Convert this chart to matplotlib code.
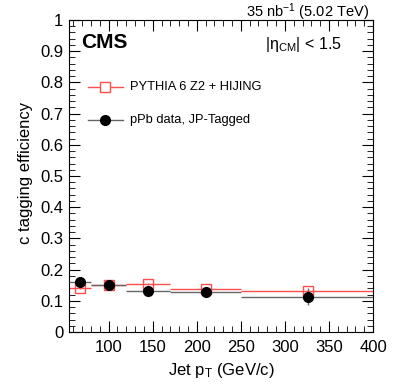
import matplotlib
matplotlib.use("Agg")
import matplotlib.pyplot as plt
from matplotlib.ticker import MultipleLocator
import numpy as np

plt.rcParams['font.family'] = ['Liberation Sans', 'DejaVu Sans']
plt.rcParams['mathtext.fontset'] = 'custom'
plt.rcParams['mathtext.rm'] = 'Liberation Sans'
plt.rcParams['mathtext.it'] = 'Liberation Sans'

# Data
bin_lo = [55, 80, 120, 170, 250]
bin_hi = [80, 120, 170, 250, 400]
mc_x = [67.5, 100.5, 145, 210.5, 326]
mc_eff = [0.140, 0.150, 0.154, 0.137, 0.132]
mc_err = [0.003, 0.003, 0.003, 0.003, 0.004]
data_x = [67.5, 100.5, 145, 210.5, 326]
data_eff = [0.159, 0.151, 0.131, 0.129, 0.113]
data_err = [0.006, 0.005, 0.005, 0.006, 0.027]

fig = plt.figure(figsize=(4.07, 3.91), dpi=100)
ax = fig.add_axes([69 / 407, 59 / 391, 304 / 407, 312 / 391])

lo = np.array(bin_lo); hi = np.array(bin_hi)
mx = np.array(mc_x); dx = np.array(data_x)

red = '#ff4d4d'
grey = '#666666'
ax.errorbar(mx, mc_eff, yerr=mc_err, xerr=[mx - lo, hi - mx], fmt='s',
            mfc='none', mec=red, ms=7, mew=1.0, color=red,
            elinewidth=1.0, capsize=0, zorder=2)
ax.errorbar(dx, data_eff, yerr=data_err, xerr=[dx - lo, hi - dx], fmt='o',
            color='black', ecolor=grey, ms=7, elinewidth=1.0, capsize=0,
            zorder=3)

ax.set_xlim(55, 400)
ax.set_ylim(0, 1)
ax.xaxis.set_minor_locator(MultipleLocator(10))
ax.yaxis.set_minor_locator(MultipleLocator(0.02))
ax.tick_params(which='both', direction='in', top=True, right=True, labelsize=12)
ax.tick_params(which='major', length=8)
ax.tick_params(which='minor', length=4)
ax.set_yticks(np.arange(0, 1.01, 0.1))
ax.set_yticklabels(['0', '0.1', '0.2', '0.3', '0.4', '0.5', '0.6', '0.7', '0.8', '0.9', '1'])
ax.set_xticks([100, 150, 200, 250, 300, 350, 400])
ax.tick_params(axis='x', pad=6)
ax.tick_params(axis='y', pad=4)

ax.set_xlabel(r'Jet p$_{\mathrm{T}}$ (GeV/c)', fontsize=12, labelpad=4)
ax.set_ylabel('c tagging efficiency', fontsize=12)
ax.yaxis.set_label_coords(-0.118, 0.51)

ax.text(0.04, 0.928, 'CMS', transform=ax.transAxes, fontsize=15, fontweight='bold', va='center')
ax.text(0.898, 0.923, r'$|\eta_{\mathrm{CM}}|$ < 1.5', transform=ax.transAxes, fontsize=11.5, ha='right', va='center')
ax.text(0.987, 1.009, r'35 nb$^{-1}$ (5.02 TeV)', transform=ax.transAxes, fontsize=10.5, ha='right', va='baseline')

# legend drawn manually (ROOT style)
leg_labels = ['PYTHIA 6 Z2 + HIJING', 'pPb data, JP-Tagged']
leg_y = [0.786, 0.679]
ax.plot([0.0625, 0.178], [leg_y[0]] * 2, color=red, lw=1.0, transform=ax.transAxes)
ax.plot([0.12], [leg_y[0]], marker='s', mfc='white', mec=red, ms=7, mew=1.0, transform=ax.transAxes)
ax.plot([0.0625, 0.178], [leg_y[1]] * 2, color=grey, lw=1.0, transform=ax.transAxes)
ax.plot([0.12], [leg_y[1]], marker='o', color='black', ms=7, transform=ax.transAxes)
for lab, yy in zip(leg_labels, leg_y):
    ax.text(0.2007, yy, lab, transform=ax.transAxes, fontsize=9.3, va='center')

fig.savefig('out.png', dpi=100)
